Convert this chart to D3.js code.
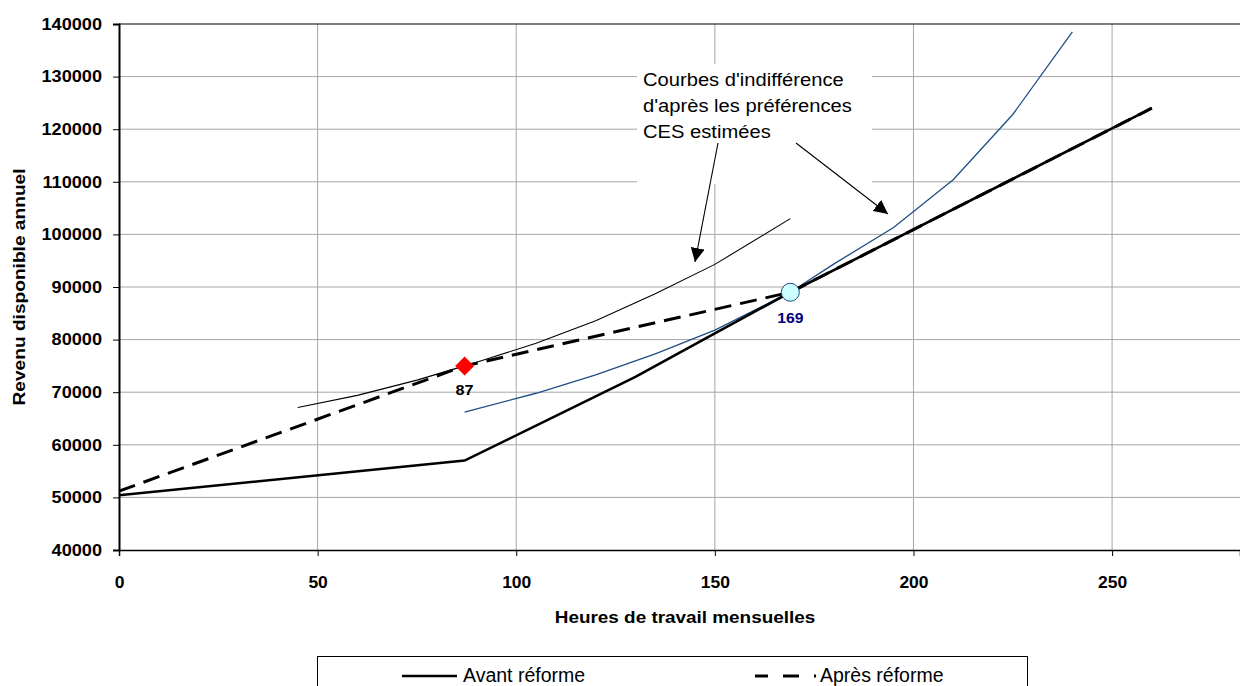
<!DOCTYPE html>
<html>
<head>
<meta charset="utf-8">
<script src="https://cdn.jsdelivr.net/npm/d3@7"></script>
<style>
  html, body { margin: 0; padding: 0; background: #fff; }
  svg { display: block; font-family: "Liberation Sans", Arial, sans-serif; }
</style>
</head>
<body>
<svg id="chart" width="1240" height="686"></svg>
<script>
// ---------- data ----------
const avantX = [0, 87, 130, 150, 169, 260];
const avantY = [50400, 57000, 72900, 81200, 89000, 124000];

const apresX = [0, 87, 169, 260];
const apresY = [51200, 75000, 89000, 124000];

const ic1X = [45, 60, 75, 87, 90, 105, 120, 135, 150, 169];
const ic1Y = [67100, 69400, 72300, 75000, 75700, 79300, 83600, 88700, 94300, 103000];

const ic2X = [87, 105, 120, 135, 150, 169, 180, 195, 210, 225, 240];
const ic2Y = [66200, 69800, 73300, 77300, 81800, 89000, 94400, 101300, 110400, 122800, 138500];

const optBefore = { x: 169, y: 89000, label: "169" };
const optAfter = { x: 87, y: 75000, label: "87" };

const xTicks = [0, 50, 100, 150, 200, 250];
const yTicks = [40000, 50000, 60000, 70000, 80000, 90000, 100000, 110000, 120000, 130000, 140000];

const xTitle = "Heures de travail mensuelles";
const yTitle = "Revenu disponible annuel";
const annotationLines = ["Courbes d'indifférence", "d'après les préférences", "CES estimées"];
const legendNames = ["Avant réforme", "Après réforme"];

(function () {
// ---------- layout ----------
const svg = d3.select("#chart");
const mLeft = 119, mTop = 24, mBottom = 550, mRight = 1240;
const x = d3.scaleLinear().domain([0, 282.2]).range([mLeft, mRight]);
const y = d3.scaleLinear().domain([40000, 140000]).range([mBottom, mTop]);

// helper: text horizontally stretched
function stretchedText(parent, tx, ty, sx, rot) {
  const g = parent.append("g").attr("transform", `translate(${tx},${ty})` + (rot ? ` rotate(${rot})` : "") + ` scale(${sx},1)`);
  return g.append("text");
}

// gridlines
const grid = svg.append("g");
grid.selectAll("line.h").data(yTicks.filter(v => v > 40000 && v < 140000)).enter()
  .append("line").attr("x1", mLeft).attr("x2", mRight)
  .attr("y1", d => y(d)).attr("y2", d => y(d))
  .attr("stroke", "#a6a6a6").attr("stroke-width", 1);
grid.selectAll("line.v").data(xTicks.filter(v => v > 0)).enter()
  .append("line").attr("y1", mTop).attr("y2", mBottom)
  .attr("x1", d => x(d)).attr("x2", d => x(d))
  .attr("stroke", "#a6a6a6").attr("stroke-width", 1);
// top border
svg.append("line").attr("x1", mLeft).attr("x2", mRight)
  .attr("y1", y(140000)).attr("y2", y(140000)).attr("stroke", "#000").attr("stroke-width", 1.2);

// annotation background box (hides gridlines)
svg.append("rect").attr("x", 637).attr("y", 64).attr("width", 235).attr("height", 120).attr("fill", "#fff");

// axes
const yAxis = d3.axisLeft(y).tickValues(yTicks).tickSize(6).tickPadding(11).tickFormat(d3.format("d"));
const gy = svg.append("g").attr("transform", `translate(${mLeft},0)`).call(yAxis);
gy.select(".domain").attr("stroke", "#000").attr("stroke-width", 2);
gy.selectAll(".tick line").attr("stroke", "#000");
gy.selectAll("text").attr("font-size", 16.5).attr("font-weight", "bold").attr("fill", "#000")
  .attr("font-family", "Liberation Sans, Arial, sans-serif")
  .attr("transform", "translate(-17,0) scale(1.1,1)").attr("x", 0);

const xAxis = d3.axisBottom(x).tickValues(xTicks).tickSize(6).tickPadding(20).tickFormat(d3.format("d"));
const gx = svg.append("g").attr("transform", `translate(0,${mBottom})`).call(xAxis);
gx.select(".domain").attr("stroke", "#000").attr("stroke-width", 1.5);
gx.selectAll(".tick line").attr("stroke", "#000");
gx.selectAll("text").attr("font-size", 16.5).attr("font-weight", "bold").attr("fill", "#000")
  .attr("font-family", "Liberation Sans, Arial, sans-serif")
  .attr("transform", "scale(1.06,1)");

// axis titles
stretchedText(svg, 685, 623, 1.16).attr("text-anchor", "middle").attr("font-size", 16.3)
  .attr("font-weight", "bold").text(xTitle);
stretchedText(svg, 25, 287, 1.16, -90).attr("text-anchor", "middle").attr("font-size", 16.5)
  .attr("font-weight", "bold").text(yTitle);

// lines
const line = d3.line().x(d => x(d[0])).y(d => y(d[1]));
const zip = (a, b) => a.map((v, i) => [v, b[i]]);

svg.append("path").datum(zip(ic1X, ic1Y)).attr("d", line)
  .attr("fill", "none").attr("stroke", "#000").attr("stroke-width", 1.1);
svg.append("path").datum(zip(ic2X, ic2Y)).attr("d", line)
  .attr("fill", "none").attr("stroke", "#1f4e85").attr("stroke-width", 1.3);
svg.append("path").datum(zip(avantX, avantY)).attr("d", line)
  .attr("fill", "none").attr("stroke", "#000").attr("stroke-width", 2.6);
svg.append("path").datum(zip(apresX, apresY)).attr("d", line)
  .attr("fill", "none").attr("stroke", "#000").attr("stroke-width", 3)
  .attr("stroke-dasharray", "17,9");

// markers
const dx = x(optAfter.x), dy = y(optAfter.y), s = 9.5;
svg.append("path").attr("d", `M${dx},${dy - s}L${dx + s},${dy}L${dx},${dy + s}L${dx - s},${dy}Z`).attr("fill", "#ff0000");
stretchedText(svg, dx, dy + 29, 1.12).attr("text-anchor", "middle")
  .attr("font-size", 14.5).attr("font-weight", "bold").attr("fill", "#000").text(optAfter.label);

svg.append("circle").attr("cx", x(optBefore.x)).attr("cy", y(optBefore.y)).attr("r", 9)
  .attr("fill", "#ccffff").attr("stroke", "#1f4e85").attr("stroke-width", 1);
stretchedText(svg, x(optBefore.x), y(optBefore.y) + 31, 1.05).attr("text-anchor", "middle")
  .attr("font-size", 15).attr("font-weight", "bold").attr("fill", "#000080").text(optBefore.label);

// annotation arrows
const defs = svg.append("defs");
defs.append("marker").attr("id", "arr").attr("viewBox", "0 0 10 10").attr("refX", 10).attr("refY", 5)
  .attr("markerWidth", 14).attr("markerHeight", 14).attr("markerUnits", "userSpaceOnUse").attr("orient", "auto")
  .append("path").attr("d", "M0,0L10,5L0,10Z").attr("fill", "#000");
svg.append("line").attr("x1", 718).attr("y1", 143).attr("x2", 695).attr("y2", 262)
  .attr("stroke", "#000").attr("stroke-width", 1.1).attr("marker-end", "url(#arr)");
svg.append("line").attr("x1", 796).attr("y1", 143).attr("x2", 888).attr("y2", 214)
  .attr("stroke", "#000").attr("stroke-width", 1.1).attr("marker-end", "url(#arr)");

// annotation text
annotationLines.forEach((t, i) => {
  stretchedText(svg, 643, 86 + i * 26, 1.09).attr("font-size", 18.5).attr("fill", "#000").text(t);
});

// legend
svg.append("rect").attr("x", 317.5).attr("y", 656.5).attr("width", 710).attr("height", 60)
  .attr("fill", "#fff").attr("stroke", "#000").attr("stroke-width", 1);
svg.append("line").attr("x1", 402).attr("x2", 457).attr("y1", 676).attr("y2", 676)
  .attr("stroke", "#000").attr("stroke-width", 2.6);
svg.append("text").attr("x", 463).attr("y", 682).attr("font-size", 19.5).text(legendNames[0]);
svg.append("line").attr("x1", 755).attr("x2", 817).attr("y1", 676).attr("y2", 676)
  .attr("stroke", "#000").attr("stroke-width", 3).attr("stroke-dasharray", "13,15,16,15,2,100");
svg.append("text").attr("x", 820).attr("y", 682).attr("font-size", 19.5).text(legendNames[1]);
})();
</script>
</body>
</html>
